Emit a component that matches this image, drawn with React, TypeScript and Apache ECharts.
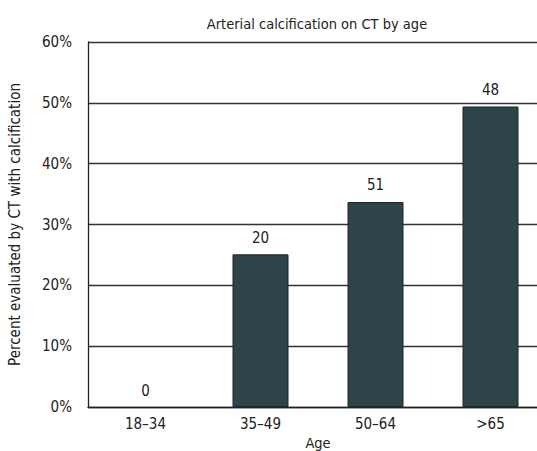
import React, { useEffect, useRef } from "react";
import * as echarts from "echarts";

const categories = ["18\u201334", "35\u201349", "50\u201364", ">65"];
const percents = [0, 25.1, 33.7, 49.4];
const counts = [0, 20, 51, 48];
const yTicks = [0, 10, 20, 30, 40, 50, 60];

const FONT = "'DejaVu Sans Condensed', 'Liberation Sans Narrow', sans-serif";

export default function App() {
  const ref = useRef<HTMLDivElement>(null);
  useEffect(() => {
    if (!ref.current) return;
    document.body.style.margin = "0";
    document.body.style.overflow = "hidden";
    const chart = echarts.init(ref.current, undefined, { renderer: "svg" });
    chart.setOption({
      animation: false,
      backgroundColor: "#ffffff",
      textStyle: { fontFamily: FONT, color: "#222" },
      title: {
        text: "Arterial calcification on CT by age",
        left: 312,
        textAlign: "center",
        top: 11,
        textStyle: { fontFamily: FONT, fontSize: 14.5, fontWeight: "normal", color: "#222" },
      },
      grid: { left: 88, right: 0, top: 42, bottom: 44, containLabel: false, outerBoundsMode: "none" },
      xAxis: {
        type: "category",
        data: categories,
        name: "Age",
        nameLocation: "middle",
        nameGap: 25,
        nameTextStyle: { fontFamily: FONT, fontSize: 14.5, color: "#222", lineHeight: 15 },
        axisLine: { show: true, lineStyle: { color: "#222", width: 1.3 } },
        axisTick: { show: false },
        axisLabel: { fontFamily: FONT, fontSize: 15, color: "#222", margin: 9 },
      },
      yAxis: {
        type: "value",
        min: 0,
        max: 60,
        interval: 10,
        name: "Percent evaluated by CT with calcification",
        nameLocation: "middle",
        nameGap: 66,
        nameTextStyle: { fontFamily: FONT, fontSize: 15, color: "#222" },
        axisLine: { show: true, lineStyle: { color: "#222", width: 1.3 } },
        axisTick: { show: false },
        axisLabel: {
          fontFamily: FONT,
          fontSize: 15,
          color: "#222",
          margin: 16,
          formatter: (v: number) => (yTicks.includes(v) ? v + "%" : ""),
        },
        splitLine: { show: true, lineStyle: { color: "#333", width: 1.3 } },
      },
      series: [
        {
          type: "bar",
          data: percents.map((v) => ({
            value: v,
            itemStyle: v === 0 ? { borderWidth: 0 } : undefined,
          })),
          barWidth: 56,
          itemStyle: { color: "#2f434b", borderColor: "#1c272c", borderWidth: 1 },
          label: {
            show: true,
            position: "top",
            distance: 9,
            fontFamily: FONT,
            fontSize: 15,
            color: "#222",
            formatter: (p: any) => String(counts[p.dataIndex]),
          },
        },
      ],
    });
    return () => chart.dispose();
  }, []);
  return (
    <div style={{ position: "fixed", left: 0, top: 0, width: 537, height: 451, overflow: "hidden", background: "#fff" }}>
      <div ref={ref} style={{ width: 548, height: 451 }} />
    </div>
  );
}
